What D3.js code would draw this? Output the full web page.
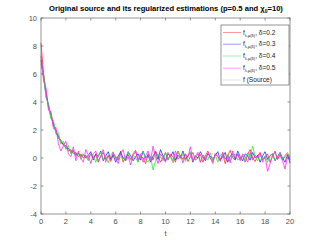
<!DOCTYPE html>
<html>
<head>
<meta charset="utf-8">
<script src="https://cdn.jsdelivr.net/npm/d3@7"></script>
<style>
  body { margin: 0; background: #fff; }
  text { font-family: "Liberation Sans", Arial, sans-serif; }
</style>
</head>
<body>
<div id="chart"></div>
<script>
// data, t = 0:0.2:20
const tStep = 0.2
const deltas = ["0.2", "0.3", "0.4", "0.5"]
const colors = ["#ff2a2a", "#2a2aff", "#2aee2a", "#ff2aff"]

const red = [
  8.2, 6.1, 4.8, 3.6, 3.2, 2.3, 2.0, 1.4, 1.3, 0.9,
  0.9, 0.5, 0.6, 0.3, 0.4, 0.1, 0.3, 0.0, 0.2, -0.1,
  0.3, 0.0, 0.25, -0.3, 0.15, 0.4, -0.1, 0.15, -0.25, 0.3,
  0.1, -0.15, 0.5, -0.3, 0.0, 0.25, -0.15, 0.3, 0.55, -0.25,
  0.15, 0.0, -0.4, 0.3, 0.1, -0.15, 0.5, 0.15, -0.3, 0.0,
  0.4, -0.15, 0.25, 0.1, -0.3, 0.5, 0.15, -0.1, 0.3, -0.25,
  0.1, 0.4, -0.15, 0.0, 0.25, -0.3, 0.15, 0.5, 0.0, -0.25,
  0.3, 0.1, -0.15, 0.25, -0.4, 0.15, 0.55, 0.0, -0.15, 0.3,
  -0.1, 0.15, -0.3, 0.25, 0.6, 0.0, -0.25, 0.15, 0.4, -0.15,
  0.1, 0.3, -0.3, 0.15, 0.5, -0.1, 0.25, -0.15, 0.1, 0.3,
  -0.15
]
const blue = [
  7.0, 5.8, 4.5, 3.8, 2.9, 2.5, 1.8, 1.6, 1.1, 1.0,
  0.7, 0.7, 0.4, 0.5, 0.2, 0.35, 0.1, 0.25, 0.0, 0.2,
  0.45, -0.15, 0.3, 0.1, 0.5, -0.2, 0.15, 0.45, -0.1, 0.2,
  -0.3, 0.15, 0.4, 0.0, -0.15, 0.45, 0.15, -0.2, 0.1, 0.3,
  -0.15, 0.5, 0.0, 0.2, -0.3, 0.15, 0.4, -0.1, 0.6, 0.15,
  -0.2, 0.3, 0.1, 0.45, -0.15, 0.2, 0.0, 0.5, -0.1, 0.15,
  0.4, -0.3, 0.15, 0.0, 0.45, 0.1, -0.2, 0.3, 0.15, -0.1,
  0.2, 0.45, -0.15, 0.1, 0.4, -0.3, 0.15, 0.3, -0.1, 0.5,
  0.1, -0.2, 0.3, 0.15, -0.15, 0.4, 0.0, 0.2, -0.3, 0.15,
  0.45, -0.1, 0.15, 0.3, -0.2, 0.1, 0.4, 0.0, -0.3, 0.2,
  -0.35
]
const green = [
  6.7, 6.0, 4.3, 3.9, 2.8, 2.7, 1.7, 1.8, 1.0, 1.2,
  0.6, 0.9, 0.3, 0.6, 0.1, 0.4, -0.1, 0.3, 0.1, -0.2,
  0.35, 0.1, -0.3, 0.2, 0.4, -0.1, 0.15, -0.35, 0.2, 0.45,
  -0.1, 0.0, 0.3, -0.25, 0.1, 0.4, -0.15, 0.2, 0.0, -0.3,
  0.25, 0.5, -0.1, -0.3, 0.1, -0.85, -0.2, 0.3, 0.1, -0.2,
  0.4, -0.1, 0.2, -0.35, 0.15, 0.5, -0.05, 0.3, -0.25, 0.1,
  0.45, -0.2, 0.0, 0.3, -0.3, 0.2, 0.1, -0.15, 0.35, -0.1,
  0.2, -0.3, 0.15, 0.4, -0.05, 0.25, -0.2, 0.1, 0.3, -0.15,
  0.0, 0.2, -0.25, 0.35, 0.05, 0.85, 0.1, -0.2, 0.25, -0.1,
  0.15, -0.3, 0.2, 0.3, -0.15, 0.1, 0.35, -0.05, 0.2, 0.4,
  0.0
]
const magenta = [
  7.3, 5.6, 5.0, 3.4, 3.3, 2.1, 2.2, 1.0, 0.5, 0.9,
  1.2, 0.3, 0.1, 0.8, -0.2, 0.5, 0.0, -0.3, 0.6, 0.2,
  -0.4, 0.3, 0.5, -0.2, 0.1, 0.6, -0.3, 0.2, -0.1, 0.4,
  0.0, -0.4, 0.3, 0.6, -0.2, 0.1, -0.5, 0.2, 0.45, -0.1,
  0.3, -0.3, 0.15, 0.5, -0.2, 0.85, 0.1, -0.4, 0.3, 0.0,
  -0.3, 0.4, 0.1, -0.2, 0.5, -0.1, 0.2, -0.35, 0.3, 0.05,
  0.8, -0.2, 0.1, 0.4, -0.3, 0.2, -0.1, 0.35, 0.0, -0.4,
  0.3, 0.1, -0.25, 0.4, -0.1, 0.2, -0.35, 0.5, 0.0, 0.25,
  -0.2, 0.3, 0.1, -0.3, 0.4, -0.15, 0.2, 0.0, 0.35, -0.3,
  0.1, -0.95, -0.4, 0.2, 0.4, -0.1, 0.25, -0.2, -0.8, 0.1,
  0.2
]
// true source, sampled coarser
const sourceT = [0, 0.2, 0.4, 0.6, 0.8, 1, 1.2, 1.4, 1.6, 1.8, 2, 2.4, 2.8, 3.2, 3.6, 4, 5, 6, 20]
const sourceV = [7.5, 6.0, 4.6, 3.7, 3.0, 2.4, 1.9, 1.5, 1.2, 1.0, 0.8, 0.5, 0.3, 0.2, 0.12, 0.08, 0.03, 0.01, 0]

const xTicks = [0, 2, 4, 6, 8, 10, 12, 14, 16, 18, 20]
const yTicks = [-4, -2, 0, 2, 4, 6, 8, 10]

const W = 321, H = 241
const m = { left: 41, right: 290, top: 18, bottom: 214 }

const svg = d3.select("#chart").append("svg")
  .attr("width", W).attr("height", H)

const x = d3.scaleLinear().domain([0, 20]).range([m.left, m.right])
const y = d3.scaleLinear().domain([-4, 10]).range([m.bottom, m.top])

const axisCol = "#4d4d4d"

// series
const line = d3.line().x(d => x(d[0])).y(d => y(d[1]))

svg.append("path")
  .datum(sourceT.map((t, i) => [t, sourceV[i]]))
  .attr("d", line).attr("fill", "none")
  .attr("stroke", "#d9d9d9").attr("stroke-width", 0.8)

const series = [red, blue, green, magenta]
series.forEach((s, k) => {
  svg.append("path")
    .datum(s.map((v, i) => [i * tStep, v]))
    .attr("d", line)
    .attr("fill", "none")
    .attr("stroke", colors[k])
    .attr("stroke-width", 0.8)
})

// box + ticks
const g = svg.append("g").attr("fill", "none").attr("stroke", axisCol).attr("stroke-width", 0.6)
g.append("rect").attr("x", m.left).attr("y", m.top)
  .attr("width", m.right - m.left).attr("height", m.bottom - m.top)

xTicks.forEach(t => {
  g.append("line").attr("x1", x(t)).attr("x2", x(t)).attr("y1", m.bottom).attr("y2", m.bottom - 2.5)
  g.append("line").attr("x1", x(t)).attr("x2", x(t)).attr("y1", m.top).attr("y2", m.top + 2.5)
})
yTicks.forEach(t => {
  g.append("line").attr("x1", m.left).attr("x2", m.left + 2.5).attr("y1", y(t)).attr("y2", y(t))
  g.append("line").attr("x1", m.right).attr("x2", m.right - 2.5).attr("y1", y(t)).attr("y2", y(t))
})

svg.selectAll(".xl").data(xTicks).join("text")
  .attr("x", d => x(d)).attr("y", m.bottom + 10)
  .attr("text-anchor", "middle").attr("font-size", 7.5).attr("fill", axisCol)
  .text(d => d)

svg.selectAll(".yl").data(yTicks).join("text")
  .attr("x", m.left - 4).attr("y", d => y(d) + 2.6)
  .attr("text-anchor", "end").attr("font-size", 7.5).attr("fill", axisCol)
  .text(d => d)

svg.append("text").attr("x", (m.left + m.right) / 2).attr("y", 236)
  .attr("text-anchor", "middle").attr("font-size", 7.5).attr("fill", axisCol).text("t")

// title
const title = svg.append("text").attr("x", 166).attr("y", 11)
  .attr("text-anchor", "middle").attr("font-size", 7.6).attr("font-weight", "bold").attr("fill", "#000")
title.append("tspan").text("Original source and its regularized estimations (p=0.5 and χ")
title.append("tspan").attr("dy", 2).attr("font-size", 5).text("0")
title.append("tspan").attr("dy", -2).text("=10)")

// legend
const lg = svg.append("g")
lg.append("rect").attr("x", 221).attr("y", 25).attr("width", 68).attr("height", 60)
  .attr("fill", "#fff").attr("stroke", axisCol).attr("stroke-width", 0.6)

const legY = [32.5, 44.2, 56, 68.2, 80]
const legCols = colors.concat(["#d9d9d9"])
legCols.forEach((c, i) => {
  lg.append("line").attr("x1", 223).attr("x2", 241).attr("y1", legY[i]).attr("y2", legY[i])
    .attr("stroke", c).attr("stroke-width", 0.8).attr("stroke-opacity", i < 4 ? 0.6 : 1)
  const tx = lg.append("text").attr("x", 243).attr("y", legY[i] + 2.2)
    .attr("font-size", 6.6).attr("fill", "#222")
  if (i < 4) {
    tx.append("tspan").text("f")
    tx.append("tspan").attr("dy", 1.8).attr("font-size", 4).text("λ,μ(δ)")
    tx.append("tspan").attr("dy", -1.8).text(", δ=" + deltas[i])
  } else {
    tx.text("f (Source)")
  }
})
</script>
</body>
</html>
